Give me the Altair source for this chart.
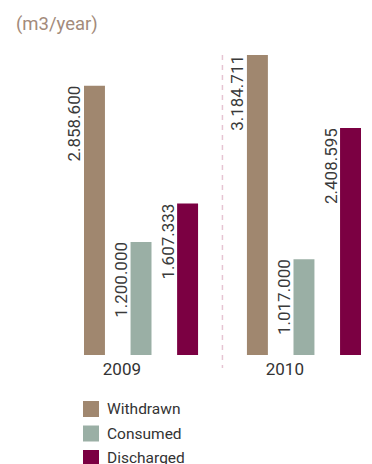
import altair as alt
import pandas as pd

years = ["2009", "2010"]
series = ["Withdrawn", "Consumed", "Discharged"]
values_2009 = [2858600, 1200000, 1607333]
values_2010 = [3184711, 1017000, 2408595]
colors = ["#a0876f", "#9aafa5", "#7b0042"]

rows = []
for yr, vals in zip(years, [values_2009, values_2010]):
    for s, v in zip(series, vals):
        rows.append({"year": yr, "series": s, "value": v,
                     "label": f"{v:,}".replace(",", ".")})
df = pd.DataFrame(rows)
sep = pd.DataFrame({"year": [years[1]]})

FONT = "Roboto"

x_enc = alt.X("year:N", sort=years, title=None,
              scale=alt.Scale(paddingInner=0.3, paddingOuter=0),
              axis=alt.Axis(labelAngle=0, ticks=False, domain=False, labelPadding=14,
                            labelFontSize=17, labelFont=FONT, labelColor="#333333"))
xo_enc = alt.XOffset("series:N", sort=series,
                     scale=alt.Scale(paddingInner=0.55, paddingOuter=0))
y_enc = alt.Y("value:Q", axis=None,
              scale=alt.Scale(domain=[0, max(values_2010 + values_2009)], nice=False))

bars = alt.Chart(df).mark_bar().encode(
    x=x_enc, xOffset=xo_enc, y=y_enc,
    color=alt.Color("series:N", sort=series,
                    scale=alt.Scale(domain=series, range=colors),
                    legend=alt.Legend(title=None, orient="none", legendX=-1, legendY=346,
                                      symbolType="square", symbolSize=256,
                                      symbolStrokeWidth=0, symbolOpacity=1,
                                      labelFont=FONT, labelFontSize=15.5,
                                      labelColor="#333333", rowPadding=7.5,
                                      labelOffset=8, padding=0)),
)

labels = alt.Chart(df).mark_text(angle=270, align="right", baseline="alphabetic",
                                 dy=-14, font=FONT, fontSize=17,
                                 color="#3a3a3a").encode(
    x=alt.X("year:N", sort=years), xOffset=alt.XOffset("series:N", sort=series),
    y="value:Q", text="label:N",
)

rule = alt.Chart(sep).mark_rule(color="#e6c4d2", strokeWidth=1.5, xOffset=-24.5,
                                strokeDash=[5, 5]).encode(
    x=alt.X("year:N", sort=years, bandPosition=0),
    y=alt.value(0), y2=alt.value(313),
)

chart = alt.layer(rule, bars, labels).properties(
    width=277, height=300,
    autosize=alt.AutoSizeParams(type="none"),
    padding={"left": 76, "top": 47, "right": 0, "bottom": 112},
    title=alt.TitleParams("(m3/year)", anchor="start", frame="group", dx=-68,
                          fontSize=18.5, font=FONT, fontWeight="normal",
                          color="#a38b7b", baseline="top", offset=21),
).configure_view(strokeWidth=0)

chart.save("out.html", embed_options={"renderer": "svg", "actions": False})
